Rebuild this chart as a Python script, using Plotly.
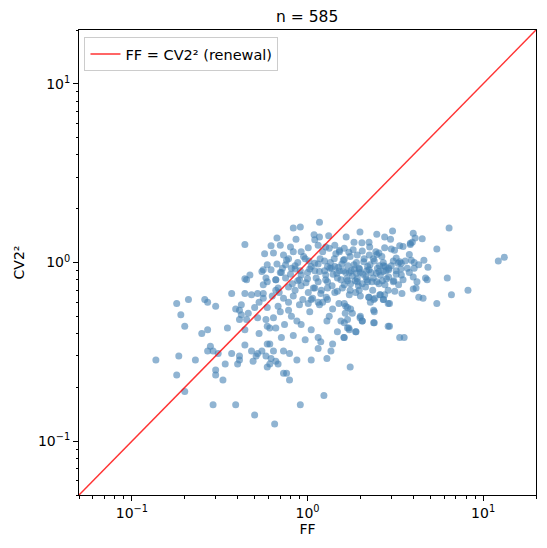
import plotly.graph_objects as go

# FF and squared CV2 per unit
ff = [
    0.44, 0.57, 0.55, 0.58, 0.59, 0.56, 0.59, 0.44, 0.45, 0.47, 0.56, 0.37, 0.44, 0.48, 0.52, 0.56,
    0.18, 0.21, 0.26, 0.27, 0.30, 0.19, 0.20, 0.27, 0.35, 0.39, 0.41, 0.42, 0.46, 0.45, 0.41, 0.50,
    0.53, 0.56, 0.59, 0.52, 0.58, 0.59, 0.42, 0.25, 0.44, 0.53, 0.59, 0.137, 0.185, 0.23, 0.27, 0.28,
    0.29, 0.31, 0.37, 0.41, 0.41, 0.44, 0.48, 0.51, 0.52, 0.55, 0.58, 0.49, 0.40, 0.34, 0.59, 0.18,
    0.30, 0.30, 0.33, 0.20, 0.29, 0.39, 0.50,
    0.62, 0.61, 0.66, 0.68, 0.87, 1.05, 1.29, 1.75, 0.73, 0.76, 0.79, 1.24, 0.91, 0.65,
    0.66, 0.73, 0.68, 0.70, 0.64, 0.61, 0.66, 0.71, 0.83, 0.97, 1.15, 1.19, 1.05, 0.92, 0.87, 0.74,
    0.81, 0.78, 0.90, 1.03, 1.01, 1.17, 1.30, 1.39, 1.33, 1.29, 1.51, 1.65, 1.69, 1.55, 1.48, 1.61,
    1.72, 1.88, 2.00, 2.05, 2.23, 2.38, 2.60, 2.88, 3.14, 2.70, 2.88, 2.38, 2.38, 2.88, 3.35, 0.61,
    0.64, 0.73, 0.79, 1.15, 1.36, 1.39,
    0.78, 0.85, 0.92, 1.01, 1.10, 1.19, 1.30, 1.43, 0.83, 0.94, 1.07, 1.22, 0.78, 0.63, 0.69,
    1.17, 0.83, 0.91, 0.67, 0.86, 1.09, 1.10, 1.17, 1.32, 1.66, 1.99, 2.48, 2.75, 3.05, 2.97, 0.62,
    0.70, 0.64, 0.73, 0.80, 0.83, 0.92, 1.01, 1.15, 1.27, 1.43, 1.52, 1.84, 2.04, 2.24, 2.26, 2.55,
    2.75, 3.00, 3.13, 3.35,
    0.67, 0.76, 0.85, 0.97, 1.10, 1.25, 1.43, 1.62, 1.84, 2.09, 2.37, 2.71, 3.08, 3.28,
    0.62, 0.71, 0.81, 0.91, 1.03, 1.17, 1.34, 1.52, 1.73, 1.97, 2.24, 2.55, 2.90, 3.20,
    0.66, 0.75, 0.88, 1.00, 1.15, 1.27, 1.48, 1.69, 1.92, 2.18, 2.48, 2.82, 3.10,
    6.4, 4.0, 4.1, 3.95, 3.85, 4.5, 3.5, 3.85, 5.45, 2.48, 3.2, 3.35, 3.42, 3.8, 3.9, 4.05,
    4.3, 4.6, 4.85, 4.05, 3.7, 2.9, 2.7, 3.42, 4.0, 4.7, 6.25, 12.2, 13.2, 4.0, 4.15, 3.45,
    4.3, 4.55, 6.6, 8.2, 5.45, 3.55, 4.2, 4.8,
    1.62, 1.76, 1.92, 2.05, 2.14, 2.33, 2.55, 2.76, 3.08, 1.73, 1.88, 1.97, 2.24, 2.28, 2.42, 2.58,
    2.71, 2.75, 2.93, 1.62, 1.69, 1.76, 1.64, 1.80, 2.40, 1.99, 2.05, 2.40, 2.93, 1.62, 1.69, 1.73,
    1.89, 1.62,
    1.00, 1.05, 1.12, 1.18, 1.25, 1.30, 1.35, 1.40, 1.45, 1.50, 1.55, 1.60, 1.65, 1.70, 1.75, 1.80,
    1.85, 1.90, 1.95, 2.00, 2.10, 2.15, 2.20, 2.30, 2.40, 2.50, 2.60, 2.70, 2.80, 0.95, 0.90, 0.85,
    0.80, 0.75, 0.70, 0.66, 1.08, 1.20, 1.28, 1.38, 1.48, 1.58, 1.22, 1.33, 1.42, 1.52, 1.62, 1.72,
    1.82, 1.92, 2.05, 2.25, 2.45, 2.65, 1.15, 1.27, 1.37, 1.47, 1.57, 1.67, 1.77, 1.87, 1.97, 2.07,
    2.17, 2.27, 2.37, 2.47, 2.57, 2.67, 2.77, 2.90, 3.00, 1.02, 0.98, 0.92, 1.10, 0.88, 0.82, 0.78,
    0.72, 0.68, 1.60, 1.30, 1.90, 2.20, 3.20, 3.40, 3.60, 3.80, 3.30, 3.50, 2.00, 1.75, 2.35, 1.05,
    1.15,
]
cv2 = [
    1.26, 1.12, 0.89, 0.82, 0.97, 0.91, 0.78, 0.81, 0.80, 0.85, 0.75, 0.67, 0.67, 0.66, 0.67, 0.67,
    0.59, 0.62, 0.62, 0.60, 0.57, 0.51, 0.44, 0.42, 0.43, 0.55, 0.54, 0.58, 0.52, 0.48, 0.48, 0.56,
    0.60, 0.63, 0.56, 0.49, 0.48, 0.44, 0.51, 0.40, 0.42, 0.40, 0.35, 0.285, 0.30, 0.285, 0.32, 0.34,
    0.32, 0.31, 0.31, 0.30, 0.285, 0.345, 0.32, 0.30, 0.31, 0.32, 0.30, 0.28, 0.27, 0.27, 0.26, 0.235,
    0.25, 0.235, 0.22, 0.19, 0.16, 0.16, 0.14,
    0.29, 0.27, 0.28, 0.27, 0.285, 0.285, 0.29, 0.26, 0.24, 0.24, 0.22, 0.18, 0.16, 0.125,
    0.70, 0.63, 0.57, 0.53, 0.49, 0.43, 0.43, 0.38, 0.39, 0.37, 0.38, 0.36, 0.42, 0.45, 0.47, 0.45,
    0.50, 0.54, 0.58, 0.53, 0.59, 0.58, 0.62, 0.55, 0.50, 0.47, 0.59, 0.57, 0.48, 0.47, 0.41, 0.38,
    0.43, 0.41, 0.50, 0.47, 0.64, 0.62, 0.66, 0.70, 0.69, 0.62, 0.59, 0.54, 0.46, 0.44, 0.38, 0.35,
    0.32, 0.32, 0.31, 0.33, 0.32, 0.35,
    0.73, 0.70, 0.74, 0.68, 0.72, 0.67, 0.72, 0.68, 0.65, 0.62, 0.63, 0.60, 0.60, 0.65, 0.68,
    1.68, 1.56, 1.58, 1.37, 1.35, 1.43, 1.34, 1.39, 1.41, 1.39, 1.48, 1.44, 1.39, 1.50, 1.35, 1.24,
    1.25, 1.13, 1.10, 1.22, 1.15, 1.15, 1.21, 1.25, 1.22, 1.25, 1.17, 1.30, 1.29, 1.30, 1.22, 1.13,
    1.21, 1.19, 1.17, 1.24,
    0.98, 1.03, 0.96, 1.05, 0.99, 1.02, 0.95, 1.04, 0.97, 1.01, 1.05, 0.96, 1.02, 0.99,
    0.91, 0.88, 0.93, 0.90, 0.92, 0.89, 0.93, 0.90, 0.88, 0.92, 0.91, 0.89, 0.93, 0.90,
    0.80, 0.82, 0.79, 0.81, 0.78, 0.80, 0.82, 0.79, 0.81, 0.80, 0.78, 0.81, 0.79,
    1.56, 1.46, 1.37, 1.30, 1.26, 1.36, 1.23, 1.28, 1.19, 1.11, 1.06, 1.01, 0.99, 1.11, 1.03, 1.00,
    0.97, 1.03, 0.94, 0.93, 0.93, 0.91, 0.89, 0.85, 0.83, 0.82, 0.82, 1.02, 1.07, 0.71, 0.72, 0.67,
    0.64, 0.63, 0.66, 0.70, 0.59, 0.38, 0.78, 0.80,
    0.75, 0.76, 0.78, 0.76, 0.73, 0.78, 0.76, 0.75, 0.78, 0.66, 0.68, 0.70, 0.64, 0.60, 0.63, 0.66,
    0.62, 0.66, 0.59, 0.59, 0.56, 0.55, 0.52, 0.52, 0.53, 0.49, 0.47, 0.46, 0.44, 0.46, 0.43, 0.42,
    0.41, 0.38,
    0.88, 0.95, 0.82, 1.05, 0.90, 0.78, 1.00, 0.86, 1.12, 0.94, 0.80, 1.03, 0.88, 0.96, 1.08, 0.84,
    0.92, 1.00, 0.74, 0.88, 1.05, 0.83, 0.95, 0.88, 1.02, 0.93, 0.85, 1.00, 0.90, 1.08, 0.80, 0.92,
    0.86, 0.97, 0.88, 0.80, 0.72, 0.70, 0.64, 0.74, 0.69, 0.72, 1.15, 1.20, 1.05, 1.15, 1.20, 1.14,
    1.18, 1.10, 1.16, 1.10, 1.15, 1.08, 0.98, 0.85, 0.93, 0.87, 0.98, 0.81, 0.90, 0.79, 0.93, 0.86,
    0.90, 0.97, 0.82, 0.87, 0.96, 0.79, 0.95, 0.83, 0.96, 1.02, 0.77, 0.85, 0.90, 1.00, 0.76, 1.05,
    0.93, 0.72, 0.90, 0.95, 0.87, 0.78, 0.86, 0.92, 1.02, 0.88, 0.75, 0.80, 0.65, 0.70, 0.70, 0.62,
    0.60,
]

line_x = [0.05, 20]
line_y = [0.05, 20]

tick_vals = [0.1, 1, 10]
tick_text = ['10<sup>−1</sup>', '10<sup>0</sup>', '10<sup>1</sup>']

fig = go.Figure()
fig.add_trace(go.Scatter(
    x=ff, y=cv2, mode='markers', showlegend=False,
    marker=dict(size=7, color='steelblue', opacity=0.6, line=dict(width=0))
))
fig.add_trace(go.Scatter(
    x=line_x, y=line_y, mode='lines', name='FF = CV2² (renewal)',
    line=dict(color='rgba(255,0,0,0.8)', width=1.5)
))

axis_style = dict(
    type='log', range=[-1.30103, 1.30103],
    showline=True, linecolor='black', linewidth=1, mirror=True,
    ticks='outside', ticklen=5, tickcolor='black',
    tickvals=tick_vals, ticktext=tick_text,
    showgrid=False, zeroline=False,
    minor=dict(ticks='outside', ticklen=2.5, tickcolor='black', dtick='D1', showgrid=False),
    tickfont=dict(size=14, color='black'),
)

fig.update_xaxes(**axis_style, title=dict(text='FF', font=dict(size=14), standoff=4))
fig.update_yaxes(**axis_style, title=dict(text='CV2²', font=dict(size=14), standoff=10))

# the page body adds an 8px offset, so the figure is drawn 8px smaller
fig.update_layout(
    width=539, height=540,
    margin=dict(l=64, r=10, t=22, b=53),
    paper_bgcolor='white', plot_bgcolor='white',
    font=dict(family='DejaVu Sans', color='black', size=14),
    title=dict(text='n = 585', x=0.555, xanchor='center', y=0.985, yanchor='middle',
               font=dict(size=15.5)),
    legend=dict(x=0.012, y=0.985, xanchor='left', yanchor='top',
                bgcolor='rgba(255,255,255,0.8)', bordercolor='#cccccc', borderwidth=1,
                font=dict(size=14.5)),
)

fig.write_html('out.html')
